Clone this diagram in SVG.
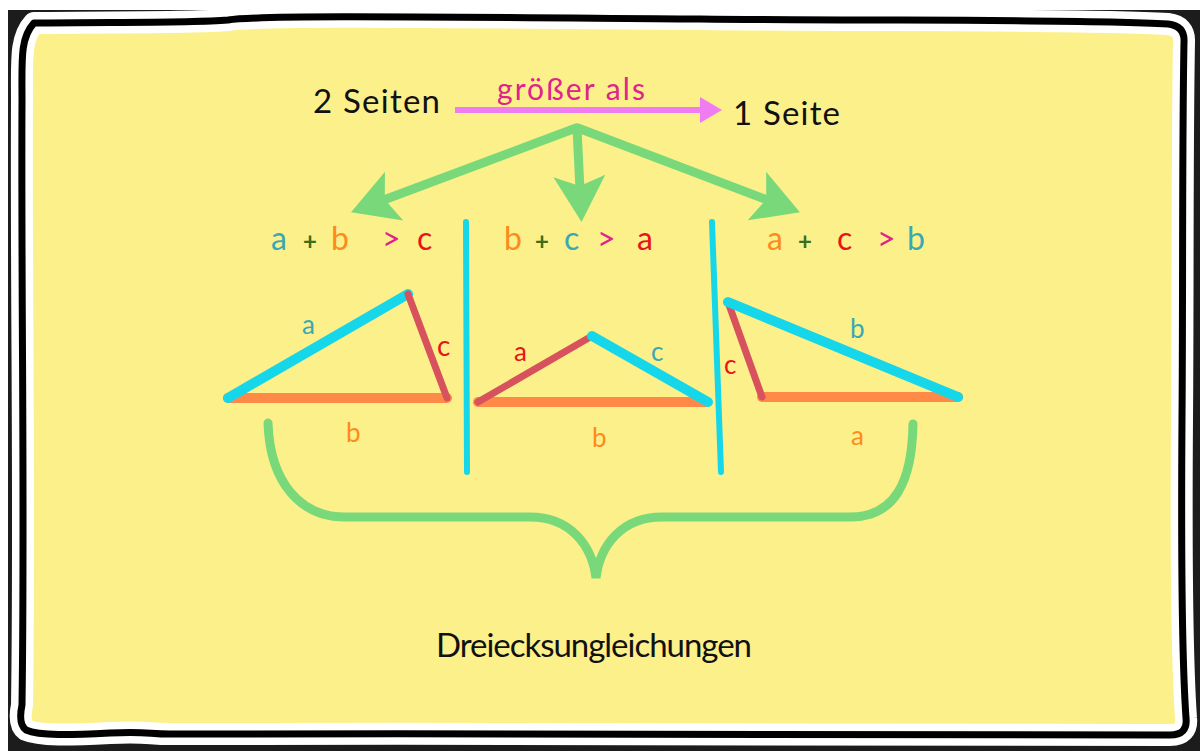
<svg xmlns="http://www.w3.org/2000/svg" width="1200" height="751" viewBox="0 0 1200 751">
<style>
.t{font-family:Lato,"Open Sans","DejaVu Sans",sans-serif;}
.blk{fill:#111;}
.teal{fill:#3aa8b4;}
.orange{fill:#ff8a1c;}
.red{fill:#e8141c;}
.mag{fill:#e0228c;}
.dg{fill:#3d6e1c;}
.side{fill:none;stroke-linecap:round;}
.cy{stroke:#16d6ea;stroke-width:10;}
.or{stroke:#ff8a48;stroke-width:10;}
.rd{stroke:#d8525e;stroke-width:7;}
.gr{fill:none;stroke:#79d97a;stroke-width:9;stroke-linecap:round;}
.sep{fill:none;stroke:#16d6ea;stroke-width:6;stroke-linecap:round;}
</style>
<defs>
<marker id="gh" markerUnits="userSpaceOnUse" markerWidth="60" markerHeight="60" viewBox="-50 -30 60 60" refX="-32" refY="0" orient="auto">
<path d="M -46 -26 L 0 0 L -46 26 L -36 0 Z" fill="#79d97a"/>
</marker>
<marker id="ph" markerUnits="userSpaceOnUse" markerWidth="30" markerHeight="30" viewBox="-24 -15 30 30" refX="-18" refY="0" orient="auto">
<path d="M -22 -13 L 0 0 L -22 13 Z" fill="#ef7cf0"/>
</marker>
</defs>
<rect x="0" y="0" width="1200" height="751" fill="#ffffff"/>
<rect x="8" y="10" width="1192" height="741" fill="#1c1c1c"/>
<g id="frame">
<path d="M 34 23 C 120 22 190 23 228 20 C 262 15 420 17 700 19 C 900 21 1080 19 1168 24 Q 1185 26 1184 42 C 1182 150 1183 300 1182 420 C 1181 560 1182 660 1186 718 Q 1188 735 1170 735 C 900 736 520 733 170 734 C 148 734 146 731 110 733 C 70 735 40 736 26 730 Q 18 724 22 705 C 25 500 21 300 22 100 C 22 60 20 38 34 23 Z" fill="#fcf08a" stroke="#ffffff" stroke-width="22" stroke-linejoin="round"/>
<path d="M 34 23 C 120 22 190 23 228 20 C 262 15 420 17 700 19 C 900 21 1080 19 1168 24 Q 1185 26 1184 42 C 1182 150 1183 300 1182 420 C 1181 560 1182 660 1186 718 Q 1188 735 1170 735 C 900 736 520 733 170 734 C 148 734 146 731 110 733 C 70 735 40 736 26 730 Q 18 724 22 705 C 25 500 21 300 22 100 C 22 60 20 38 34 23 Z" fill="none" stroke="#000000" stroke-width="7" stroke-linejoin="round"/>
</g>
<g id="connectors">
<line x1="455" y1="110" x2="704" y2="110" stroke="#ef7cf0" stroke-width="6" marker-end="url(#ph)"/>
<line x1="576" y1="128" x2="381" y2="201" class="gr" stroke-linecap="butt" marker-end="url(#gh)"/>
<line x1="577" y1="128" x2="580" y2="190" class="gr" stroke-linecap="butt" marker-end="url(#gh)"/>
<line x1="578" y1="128" x2="770" y2="201" class="gr" stroke-linecap="butt" marker-end="url(#gh)"/>
<path id="brace" class="gr" d="M 268 423 C 270 482 300 517 345 517 L 530 517 C 570 517 592 545 596 578 C 600 545 622 517 662 517 L 850 517 C 895 517 912 482 913 424"/>
</g>
<g id="n-2seiten"><text class="t blk" x="313" y="113" font-size="33" textLength="127">2 Seiten</text></g>
<g id="n-groesser"><text class="t mag" x="497" y="100" font-size="30" textLength="148">größer als</text></g>
<g id="n-1seite"><text class="t blk" x="733" y="125" font-size="33" textLength="107">1 Seite</text></g>
<g id="n-formula1" class="t" font-size="32">
<text class="teal" x="271" y="250">a</text>
<text class="dg" x="303" y="250" font-weight="bold" font-size="24">+</text>
<text class="orange" x="331" y="250">b</text>
<text class="mag" x="382" y="250">&gt;</text>
<text class="red" x="417" y="250">c</text>
</g>
<g id="n-formula2" class="t" font-size="32">
<text class="orange" x="504" y="250">b</text>
<text class="dg" x="535" y="250" font-weight="bold" font-size="24">+</text>
<text class="teal" x="564" y="250">c</text>
<text class="mag" x="597" y="250">&gt;</text>
<text class="red" x="637" y="250">a</text>
</g>
<g id="n-formula3" class="t" font-size="32">
<text class="orange" x="767" y="250">a</text>
<text class="dg" x="798" y="250" font-weight="bold" font-size="24">+</text>
<text class="red" x="837" y="250">c</text>
<text class="mag" x="877" y="250">&gt;</text>
<text class="teal" x="907" y="250">b</text>
</g>
<g id="separators">
<line class="sep" x1="466" y1="222" x2="467" y2="472"/>
<line class="sep" x1="712" y1="222" x2="721" y2="472"/>
</g>
<g id="n-triangle1">
<line class="side or" x1="228" y1="398" x2="447" y2="398"/>
<line class="side cy" x1="228" y1="398" x2="408" y2="294"/>
<line class="side rd" x1="408" y1="294" x2="447" y2="398"/>
<text class="t teal" x="302" y="334" font-size="26">a</text>
<text class="t red" x="437" y="356" font-size="28">c</text>
<text class="t orange" x="346" y="442" font-size="26">b</text>
</g>
<g id="n-triangle2">
<line class="side or" x1="478" y1="402" x2="706" y2="402"/>
<line class="side rd" x1="478" y1="402" x2="592" y2="336"/>
<line class="side cy" x1="592" y1="336" x2="708" y2="402"/>
<text class="t red" x="514" y="361" font-size="26">a</text>
<text class="t teal" x="651" y="361" font-size="26">c</text>
<text class="t orange" x="592" y="447" font-size="26">b</text>
</g>
<g id="n-triangle3">
<line class="side or" x1="762" y1="397" x2="958" y2="397"/>
<line class="side rd" x1="728" y1="302" x2="762" y2="397"/>
<line class="side cy" x1="728" y1="302" x2="958" y2="397"/>
<text class="t red" x="724" y="374" font-size="26">c</text>
<text class="t teal" x="850" y="338" font-size="26">b</text>
<text class="t orange" x="851" y="445" font-size="26">a</text>
</g>
<g id="n-title"><text class="t blk" x="436" y="657" font-size="33" textLength="316">Dreiecksungleichungen</text></g>
</svg>
